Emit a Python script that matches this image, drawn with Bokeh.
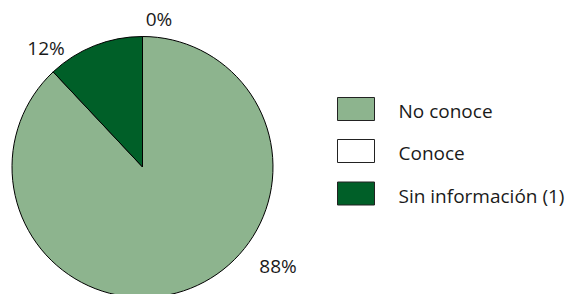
import math
from bokeh.plotting import figure
from bokeh.models import Range1d, ColumnDataSource
from bokeh.core.properties import value
from bokeh.embed import file_html
from bokeh.resources import INLINE

# ---- data ----
categories = ["No conoce", "Conoce", "Sin información (1)"]
percent = [88, 0, 12]
colors = ["#8DB48E", "#FFFFFF", "#005F28"]

# ---- layout (page pixels) ----
W, H = 571, 294
def Y(py):
    return H - py

TXT_SHIFT = 8.5  # compensation for the text baseline rendering

p = figure(width=W, height=H, output_backend="svg", toolbar_location=None,
           x_range=Range1d(0, W), y_range=Range1d(0, H),
           min_border=0, outline_line_color=None)
p.axis.visible = False
p.grid.visible = False
p.background_fill_color = "white"

cx, cy, r = 142, Y(166.5), 130.5
total = sum(percent)
starts, ends, keep = [], [], []
cum = 0
for i, v in enumerate(percent):
    s = math.pi / 2 - 2 * math.pi * cum / total
    cum += v
    e = math.pi / 2 - 2 * math.pi * cum / total
    if v > 0:
        keep.append(i)
        starts.append(s)
        ends.append(e)

src = ColumnDataSource(dict(cat=[categories[i] for i in keep],
                            val=[percent[i] for i in keep],
                            color=[colors[i] for i in keep],
                            start=starts, end=ends))
p.wedge(x=cx, y=cy, radius=r, start_angle="start", end_angle="end",
        direction="clock", fill_color="color", line_color="black",
        line_width=1, source=src)

# percentage labels
lab_x = [277.5, 158.5, 45.5]
lab_y = [Y(274 - TXT_SHIFT), Y(27 - TXT_SHIFT), Y(56 - TXT_SHIFT)]
p.text(x=lab_x, y=lab_y, text=[f"{v}%" for v in percent],
       text_font=value("Open Sans"), text_font_size="19px",
       text_color="#1a1a1a", text_align="center", text_baseline="alphabetic")

# legend drawn manually
box_top = [97, 139, 181.5]
p.quad(left=337, right=374, top=[Y(t) for t in box_top],
       bottom=[Y(t + 23) for t in box_top], fill_color=colors,
       line_color="#222222", line_width=1)
p.text(x=398, y=[Y(t + 22.3 - TXT_SHIFT) for t in box_top], text=categories,
       text_font=value("Open Sans"), text_font_size="19px",
       text_color="#1a1a1a", text_align="left", text_baseline="alphabetic")

open("out.html", "w").write(file_html(p, INLINE))
